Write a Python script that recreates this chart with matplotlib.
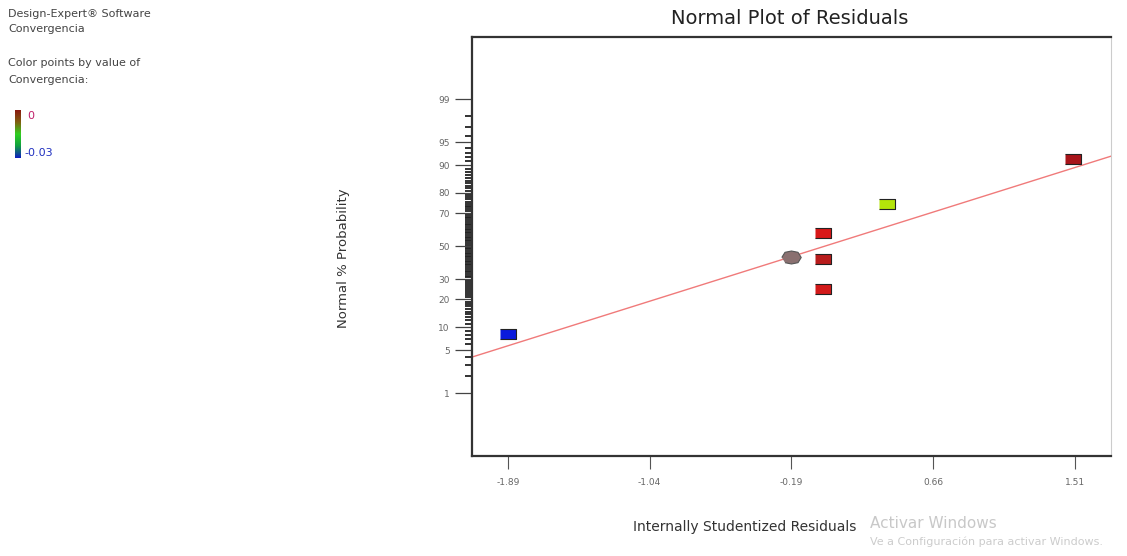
from statistics import NormalDist

import numpy as np
import matplotlib
matplotlib.use("Agg")
import matplotlib.pyplot as plt
from matplotlib.colors import LinearSegmentedColormap

# residuals (x) and normal % probability (y)
resid = [-1.89, -0.19, 0.00, 0.00, 0.00, 0.38, 1.50]
prob = [8.33, 43.5, 58.33, 41.67, 25.0, 75.0, 91.67]
kinds = ["sq", "dot", "sq", "sq", "sq", "sq", "sq"]
pt_colors = ["#0a1adc", "#8a7070", "#d81818", "#b81c1c", "#d21a1a", "#b4e40a", "#a8141a"]

xticks = [-1.89, -1.04, -0.19, 0.66, 1.51]
yticks = [1, 5, 10, 20, 30, 50, 70, 80, 90, 95, 99]
xlim = (-2.105, 1.725)
zlim = (-3.32, 3.31)

# fitted line in z units: z = slope*x + icept
fit_slope = 0.830
fit_icept = -0.008

cbar_lo, cbar_hi = "-0.03", "0"

nd = NormalDist()
zs = [nd.inv_cdf(p / 100.0) for p in prob]

fig = plt.figure(figsize=(11.27, 5.56), dpi=100)
ax = fig.add_axes([0.4188, 0.1799, 0.567, 0.7536])

xx = np.array(xlim)
ax.plot(xx, fit_slope * xx + fit_icept, color="#f07a7a", lw=1.0, zorder=2)

rect = [(-1.6, -1), (1.6, -1), (1.6, 1), (-1.6, 1)]
oval = [(-1.5, 0), (-1.0, 0.8), (0, 1.0), (1.0, 0.8), (1.5, 0), (1.0, -0.8), (0, -1.0), (-1.0, -0.8)]
for x, y, k, c in zip(resid, zs, kinds, pt_colors):
    if k == "sq":
        ax.plot(x, y, marker=rect, ms=12, color=c, mec="#222222", mew=0.8, zorder=3)
    else:
        ax.plot(x, y, marker=oval, ms=14, color=c, mec="#555555", mew=0.8, zorder=3)

ax.set_xlim(*xlim)
ax.set_ylim(*zlim)
ax.set_xticks(xticks)
ax.set_xticklabels([f"{v:.2f}" for v in xticks], fontsize=6.5, color="#666666")
ax.set_yticks([nd.inv_cdf(p / 100.0) for p in yticks])
ax.set_yticklabels([str(p) for p in yticks], fontsize=6.5, color="#666666")
minor = [p for p in range(2, 99) if p not in yticks]
ax.set_yticks([nd.inv_cdf(p / 100.0) for p in minor], minor=True)
ax.tick_params(axis="y", which="major", length=12, width=0.9, color="#444444", pad=4)
ax.tick_params(axis="y", which="minor", length=5, width=1.3, color="#222222")
ax.tick_params(axis="x", which="major", length=9, width=0.8, color="#555555", pad=7)

for s in ["left", "bottom", "top"]:
    ax.spines[s].set_color("#333333")
    ax.spines[s].set_linewidth(1.6)
ax.spines["right"].set_color("#cccccc")
ax.spines["right"].set_linewidth(0.8)

fig.text(0.701, 0.967, "Normal Plot of Residuals", ha="center", va="center", fontsize=14, color="#222222")
fig.text(0.661, 0.052, "Internally Studentized Residuals", ha="center", va="center", fontsize=10, color="#333333")
fig.text(0.305, 0.535, "Normal % Probability", ha="center", va="center", rotation=90, fontsize=9.5, color="#333333")

# left panel
fig.text(0.007, 0.975, "Design-Expert\u00ae Software", fontsize=8, color="#444444", va="center")
fig.text(0.007, 0.947, "Convergencia", fontsize=8, color="#444444", va="center")
fig.text(0.007, 0.887, "Color points by value of", fontsize=8, color="#444444", va="center")
fig.text(0.007, 0.857, "Convergencia:", fontsize=8, color="#444444", va="center")

cmap = LinearSegmentedColormap.from_list("dx", ["#1020c0", "#10a040", "#30d020", "#806010", "#8a1a10"])
cax = fig.add_axes([0.0133, 0.716, 0.0053, 0.086])
cax.imshow(np.linspace(1, 0, 64)[:, None], aspect="auto", cmap=cmap)
cax.set_axis_off()
fig.text(0.024, 0.792, cbar_hi, fontsize=8, color="#c0206a", va="center")
fig.text(0.022, 0.725, cbar_lo, fontsize=8, color="#2030c0", va="center")

# windows watermark
fig.text(0.772, 0.058, "Activar Windows", fontsize=11, color="#c8c8c8", va="center")
fig.text(0.772, 0.025, "Ve a Configuraci\u00f3n para activar Windows.", fontsize=8, color="#cccccc", va="center")

fig.savefig("out.png", dpi=100)
